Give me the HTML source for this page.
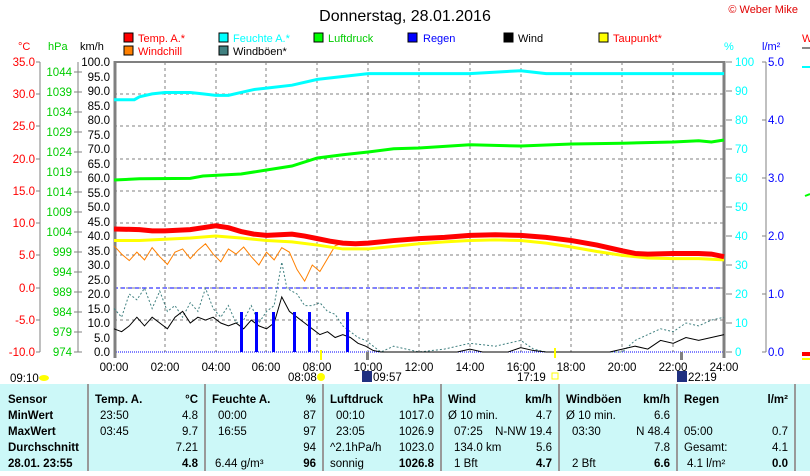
<!DOCTYPE html>
<html><head><meta charset="utf-8"><style>
body{margin:0;background:#fff;width:810px;height:471px;overflow:hidden;font-family:"Liberation Sans",sans-serif}
svg text{font-family:"Liberation Sans",sans-serif}
</style></head><body>
<svg width="810" height="471" viewBox="0 0 810 471" xmlns="http://www.w3.org/2000/svg">
<rect width="810" height="471" fill="#fff"/>
<text x="405" y="21" font-size="16" text-anchor="middle">Donnerstag, 28.01.2016</text>
<text x="798" y="13" font-size="11" fill="#e00000" text-anchor="end">© Weber Mike</text>
<!-- legend -->
<g font-size="11">
<rect x="124" y="33" width="9" height="9" fill="#f00" stroke="#000"/><text x="138" y="42" fill="#f00">Temp. A.*</text>
<rect x="219" y="33" width="9" height="9" fill="#0ff" stroke="#000"/><text x="233" y="42" fill="#0ff">Feuchte A.*</text>
<rect x="314" y="33" width="9" height="9" fill="#0f0" stroke="#000"/><text x="328" y="42" fill="#0c0">Luftdruck</text>
<rect x="408" y="33" width="9" height="9" fill="#00f" stroke="#000"/><text x="423" y="42" fill="#00f">Regen</text>
<rect x="504" y="33" width="9" height="9" fill="#000" stroke="#000"/><text x="518" y="42">Wind</text>
<rect x="599" y="33" width="9" height="9" fill="#ff0" stroke="#000"/><text x="613" y="42" fill="#f00">Taupunkt*</text>
<rect x="124" y="46" width="9" height="9" fill="#ff8000" stroke="#000"/><text x="138" y="55" fill="#f00">Windchill</text>
<rect x="219" y="46" width="9" height="9" fill="#408080" stroke="#000"/><text x="233" y="55">Windböen*</text>
</g>
<g font-size="11">
<text x="18" y="50" fill="#f00">°C</text><text x="48" y="50" fill="#0c0">hPa</text><text x="80" y="50">km/h</text>
<text x="724" y="50" fill="#0ff">%</text><text x="762" y="50" fill="#00f">l/m²</text>
<text x="802" y="42" fill="#f00">W</text>
</g>
<line x1="802" y1="48" x2="810" y2="48" stroke="#888" stroke-width="2"/>
<line x1="802" y1="67" x2="810" y2="67" stroke="#0ff" stroke-width="2"/>
<line x1="805" y1="196" x2="810" y2="194" stroke="#0f0" stroke-width="2"/>
<rect x="802" y="352" width="8" height="4" fill="#f00"/><rect x="802" y="358" width="8" height="2" fill="#ff0"/>
<!-- grid -->
<g stroke="#808080" stroke-dasharray="3,3" stroke-width="1">
<line x1="165" y1="62" x2="165" y2="352"/><line x1="216" y1="62" x2="216" y2="352"/><line x1="266" y1="62" x2="266" y2="352"/><line x1="317" y1="62" x2="317" y2="352"/><line x1="368" y1="62" x2="368" y2="352"/><line x1="419" y1="62" x2="419" y2="352"/><line x1="470" y1="62" x2="470" y2="352"/><line x1="521" y1="62" x2="521" y2="352"/><line x1="571" y1="62" x2="571" y2="352"/><line x1="622" y1="62" x2="622" y2="352"/><line x1="673" y1="62" x2="673" y2="352"/>
<line x1="114" y1="94" x2="724" y2="94"/><line x1="114" y1="126" x2="724" y2="126"/><line x1="114" y1="159" x2="724" y2="159"/><line x1="114" y1="191" x2="724" y2="191"/><line x1="114" y1="223" x2="724" y2="223"/><line x1="114" y1="255" x2="724" y2="255"/><line x1="114" y1="288" x2="724" y2="288"/><line x1="114" y1="320" x2="724" y2="320"/>
</g>
<line x1="114" y1="288" x2="724" y2="288" stroke="#00f" stroke-dasharray="4,3"/>
<line x1="114" y1="352" x2="724" y2="352" stroke="#00f" stroke-dasharray="1,1"/>
<!-- frame -->
<line x1="114" y1="62" x2="724" y2="62" stroke="#808080" stroke-width="2"/>
<line x1="115" y1="61" x2="115" y2="358" stroke="#808080" stroke-width="3"/>
<line x1="724" y1="61" x2="724" y2="358" stroke="#808080" stroke-width="3"/>
<!-- left axes -->
<g font-size="11.5">
<g fill="#f00" text-anchor="end"><text x="35" y="66">35.0</text><text x="35" y="98">30.0</text><text x="35" y="130">25.0</text><text x="35" y="163">20.0</text><text x="35" y="195">15.0</text><text x="35" y="227">10.0</text><text x="35" y="259">5.0</text><text x="35" y="292">0.0</text><text x="35" y="324">-5.0</text><text x="35" y="356">-10.0</text></g>
<g fill="#0c0" text-anchor="end"><text x="72" y="76">1044</text><text x="72" y="96">1039</text><text x="72" y="116">1034</text><text x="72" y="136">1029</text><text x="72" y="156">1024</text><text x="72" y="176">1019</text><text x="72" y="196">1014</text><text x="72" y="216">1009</text><text x="72" y="236">1004</text><text x="72" y="256">999</text><text x="72" y="276">994</text><text x="72" y="296">989</text><text x="72" y="316">984</text><text x="72" y="336">979</text><text x="72" y="356">974</text></g>
<g text-anchor="end"><text x="110" y="66">100.0</text><text x="110" y="81">95.0</text><text x="110" y="95">90.0</text><text x="110" y="110">85.0</text><text x="110" y="124">80.0</text><text x="110" y="139">75.0</text><text x="110" y="153">70.0</text><text x="110" y="168">65.0</text><text x="110" y="182">60.0</text><text x="110" y="197">55.0</text><text x="110" y="211">50.0</text><text x="110" y="226">45.0</text><text x="110" y="240">40.0</text><text x="110" y="255">35.0</text><text x="110" y="269">30.0</text><text x="110" y="284">25.0</text><text x="110" y="298">20.0</text><text x="110" y="313">15.0</text><text x="110" y="327">10.0</text><text x="110" y="342">5.0</text><text x="110" y="356">0.0</text></g>
<g fill="#0ff"><text x="735" y="66">100</text><text x="735" y="95">90</text><text x="735" y="124">80</text><text x="735" y="153">70</text><text x="735" y="182">60</text><text x="735" y="211">50</text><text x="735" y="240">40</text><text x="735" y="269">30</text><text x="735" y="298">20</text><text x="735" y="327">10</text><text x="735" y="356">0</text></g>
<g fill="#00f"><text x="768" y="66">5.0</text><text x="768" y="124">4.0</text><text x="768" y="182">3.0</text><text x="768" y="240">2.0</text><text x="768" y="298">1.0</text><text x="768" y="356">0.0</text></g>
</g>
<g stroke="#808080">
<line x1="40" y1="62" x2="40" y2="352"/><line x1="78" y1="62" x2="78" y2="352"/><line x1="766" y1="62" x2="766" y2="352"/>
<path d="M36 62h4M36 94h4M36 126h4M36 159h4M36 191h4M36 223h4M36 255h4M36 288h4M36 320h4M36 352h4"/>
<path d="M74 72h8M74 92h8M74 112h8M74 132h8M74 152h8M74 172h8M74 192h8M74 212h8M74 232h8M74 252h8M74 272h8M74 292h8M74 312h8M74 332h8M74 352h8"/>
<path d="M762 62h4M762 120h4M762 178h4M762 236h4M762 294h4M762 352h4"/>
<path d="M726 62h6M726 91h6M726 120h6M726 149h6M726 178h6M726 207h6M726 236h6M726 265h6M726 294h6M726 323h6M726 352h6"/>
</g>
<!-- series -->
<g fill="none">
<g transform="translate(114,352) scale(25.42,-2.9)">
<polyline vector-effect="non-scaling-stroke" stroke="#0ff" stroke-width="3" points="0,87 0.8,87 1,88 1.5,89 2,89.5 3,89.5 3.5,89 4,88.5 4.5,88.5 5,89.5 5.5,90.5 6,91 7,92 8,94 9,95 10,96 12,96 14,96 16,97 17,96 24,96"/>
<polyline vector-effect="non-scaling-stroke" stroke="#408080" stroke-width="1" stroke-dasharray="2,2" points="0,15 0.3,12 0.6,20 0.9,18 1.2,22 1.5,15 1.8,21 2.1,14 2.4,16 2.7,12 3,17 3.3,14 3.6,22 3.9,15 4.2,12 4.5,16 4.8,10 5.1,11 5.4,16 5.7,10 6,14 6.3,16 6.6,31 6.8,22 7.2,20 7.5,16 7.8,16 8.1,17 8.4,14 8.7,13 9,9 9.3,7 9.6,5 9.9,4 10.2,2 10.5,0 11,2 12,0 13,1 14,3 15,2 16,4 16.5,1 17,0 20,0 20.5,4 21,6 21.5,8 22,7 22.5,10 23,9 23.5,11 24,12"/>
<polyline vector-effect="non-scaling-stroke" stroke="#000" stroke-width="1" points="0,8 0.3,7 0.6,9 0.9,12 1.2,9 1.5,12 1.8,10 2.1,8 2.4,12 2.7,14 3,10 3.3,12 3.6,11 3.9,12 4.2,10 4.5,9 4.8,10 5.1,8 5.4,11 5.7,9 6,8 6.3,10 6.6,19 6.9,14 7.2,12 7.5,10 7.8,8 8.1,6 8.4,7 8.7,5 9,6 9.3,5 9.6,3 9.9,2 10.2,0.5 10.5,0 13.5,0 14,1 14.5,0 15.5,0 16,1.5 16.5,0.5 17,0 19.5,0 20,1 20.5,2 21,1 21.5,4 22,3 22.5,5 23,4 23.5,5 24,6"/>
</g>
<g transform="translate(114,352) scale(25.42,-4)">
<polyline vector-effect="non-scaling-stroke" stroke="#0f0" stroke-width="3" points="0,43 1,43.3 3,43.4 3.5,44 5,44.5 6,45.5 7,46.5 8,48.5 9,49.3 10,50 11,50.8 12,51 14,51.8 16,51.5 18,52 20,52.2 22,52.5 23,52.8 23.5,52.5 24,53"/>
</g>
<g transform="translate(114,287.6) scale(25.42,-6.444)">
<polyline vector-effect="non-scaling-stroke" stroke="#ff8000" stroke-width="1" points="0,6.5 0.3,5.2 0.6,4.2 0.9,5.5 1.2,4.3 1.5,6.2 1.8,4.8 2.1,3.6 2.4,5.5 2.7,6 3,4.5 3.3,5.8 3.6,6.8 3.9,5.2 4.2,4 4.5,6 4.8,5.2 5.1,6.3 5.4,4.8 5.7,3.5 6,5.5 6.3,4.3 6.6,6.2 6.9,5.5 7.2,2.8 7.5,1 7.8,3.5 8.1,2.5 8.4,4.5 8.7,6.5 9,6.9"/>
<polyline vector-effect="non-scaling-stroke" stroke="#ff0" stroke-width="3" points="0,7.3 1,7.3 2,7.5 3,7.7 4,8 5,7.7 6,7.3 7,7.1 8,6.6 9,6 10,6 11,6.4 12,6.8 13,7.1 14,7.3 15,7.4 16,7.3 17,6.9 18,6.3 19,5.6 20,5 21,4.6 22,4.5 23,4.5 24,4.3"/>
<polyline vector-effect="non-scaling-stroke" stroke="#f00" stroke-width="5" points="0,9.1 1,9 1.5,8.8 2,8.8 3,9 3.5,9.3 4,9.6 4.5,9.3 5,8.7 5.5,8.3 6,8.1 7,8.3 7.5,8 8,7.6 8.5,7.2 9,6.9 9.5,6.8 10,6.9 11,7.3 12,7.6 13,7.8 14,8.1 15,8.2 16,8.1 17,7.8 18,7.3 19,6.6 20,5.7 20.5,5.3 21,5.2 22,5.3 23,5.3 23.5,5.2 24,4.8"/>
</g>
</g>
<g fill="#00f"><rect x="240" y="312" width="3" height="40"/><rect x="255" y="312" width="3" height="40"/><rect x="272" y="312" width="3" height="40"/><rect x="293" y="312" width="3" height="40"/><rect x="308" y="312" width="3" height="40"/><rect x="346" y="312" width="3" height="40"/></g>
<rect x="320" y="350" width="2" height="10" fill="#ff0"/><rect x="554" y="348" width="2" height="10" fill="#ff0"/>
<rect x="366" y="352" width="3" height="8" fill="#808080"/><rect x="680" y="352" width="3" height="8" fill="#808080"/>
<!-- time labels -->
<g font-size="11.5" text-anchor="middle"><text x="114" y="371">00:00</text><text x="165" y="371">02:00</text><text x="216" y="371">04:00</text><text x="266" y="371">06:00</text><text x="317" y="371">08:00</text><text x="368" y="371">10:00</text><text x="419" y="371">12:00</text><text x="470" y="371">14:00</text><text x="521" y="371">16:00</text><text x="571" y="371">18:00</text><text x="622" y="371">20:00</text><text x="673" y="371">22:00</text><text x="724" y="371">24:00</text></g>
<g font-size="11.5"><text x="10" y="382">09:10</text><text x="288" y="381">08:08</text><text x="373" y="381">09:57</text><text x="517" y="381">17:19</text><text x="688" y="381">22:19</text></g>
<ellipse cx="44" cy="378" rx="5" ry="3" fill="#ff0"/><circle cx="321" cy="377" r="4" fill="#ff0"/>
<rect x="362" y="371" width="10" height="11" fill="#203080"/><rect x="552" y="373" width="6" height="6" fill="none" stroke="#ff0"/><rect x="677" y="371" width="10" height="11" fill="#203080"/>
<!-- table -->
<rect x="0" y="384" width="810" height="87" fill="#ccf8f8"/>
<g stroke="#999" stroke-width="2"><line x1="88" y1="384" x2="88" y2="471"/><line x1="205" y1="384" x2="205" y2="471"/><line x1="323" y1="384" x2="323" y2="471"/><line x1="441" y1="384" x2="441" y2="471"/><line x1="559" y1="384" x2="559" y2="471"/><line x1="677" y1="384" x2="677" y2="471"/><line x1="795" y1="384" x2="795" y2="471"/></g>
<g font-size="11.5">
<g font-weight="bold"><text x="8" y="403">Sensor</text><text x="8" y="419">MinWert</text><text x="8" y="435">MaxWert</text><text x="8" y="451">Durchschnitt</text><text x="8" y="467">28.01. 23:55</text>
<text x="95" y="403">Temp. A.</text><text x="212" y="403">Feuchte A.</text><text x="330" y="403">Luftdruck</text><text x="448" y="403">Wind</text><text x="566" y="403">Windböen</text><text x="684" y="403">Regen</text></g>
<g text-anchor="end" font-weight="bold"><text x="198" y="403">°C</text><text x="316" y="403">%</text><text x="434" y="403">hPa</text><text x="552" y="403">km/h</text><text x="670" y="403">km/h</text><text x="788" y="403">l/m²</text>
<text x="198" y="467">4.8</text><text x="316" y="467">96</text><text x="434" y="467">1026.8</text><text x="552" y="467">4.7</text><text x="670" y="467">6.6</text><text x="788" y="467">0.0</text></g>
<text x="100" y="419">23:50</text><text x="100" y="435">03:45</text>
<text x="218" y="419">00:00</text><text x="218" y="435">16:55</text><text x="215" y="467">6.44 g/m³</text>
<text x="336" y="419">00:10</text><text x="336" y="435">23:05</text><text x="330" y="451">^2.1hPa/h</text><text x="330" y="467">sonnig</text>
<text x="448" y="419">Ø 10 min.</text><text x="454" y="435">07:25</text><text x="454" y="451">134.0 km</text><text x="454" y="467">1 Bft</text>
<text x="566" y="419">Ø 10 min.</text><text x="572" y="435">03:30</text><text x="572" y="467">2 Bft</text>
<text x="684" y="435">05:00</text><text x="684" y="451">Gesamt:</text><text x="687" y="467">4.1 l/m²</text>
<g text-anchor="end"><text x="198" y="419">4.8</text><text x="198" y="435">9.7</text><text x="198" y="451">7.21</text>
<text x="316" y="419">87</text><text x="316" y="435">97</text><text x="316" y="451">94</text>
<text x="434" y="419">1017.0</text><text x="434" y="435">1026.9</text><text x="434" y="451">1023.0</text>
<text x="552" y="419">4.7</text><text x="552" y="435">N-NW 19.4</text><text x="552" y="451">5.6</text>
<text x="670" y="419">6.6</text><text x="670" y="435">N 48.4</text><text x="670" y="451">7.8</text>
<text x="788" y="435">0.7</text><text x="788" y="451">4.1</text></g>
</g>
</svg>
</body></html>
